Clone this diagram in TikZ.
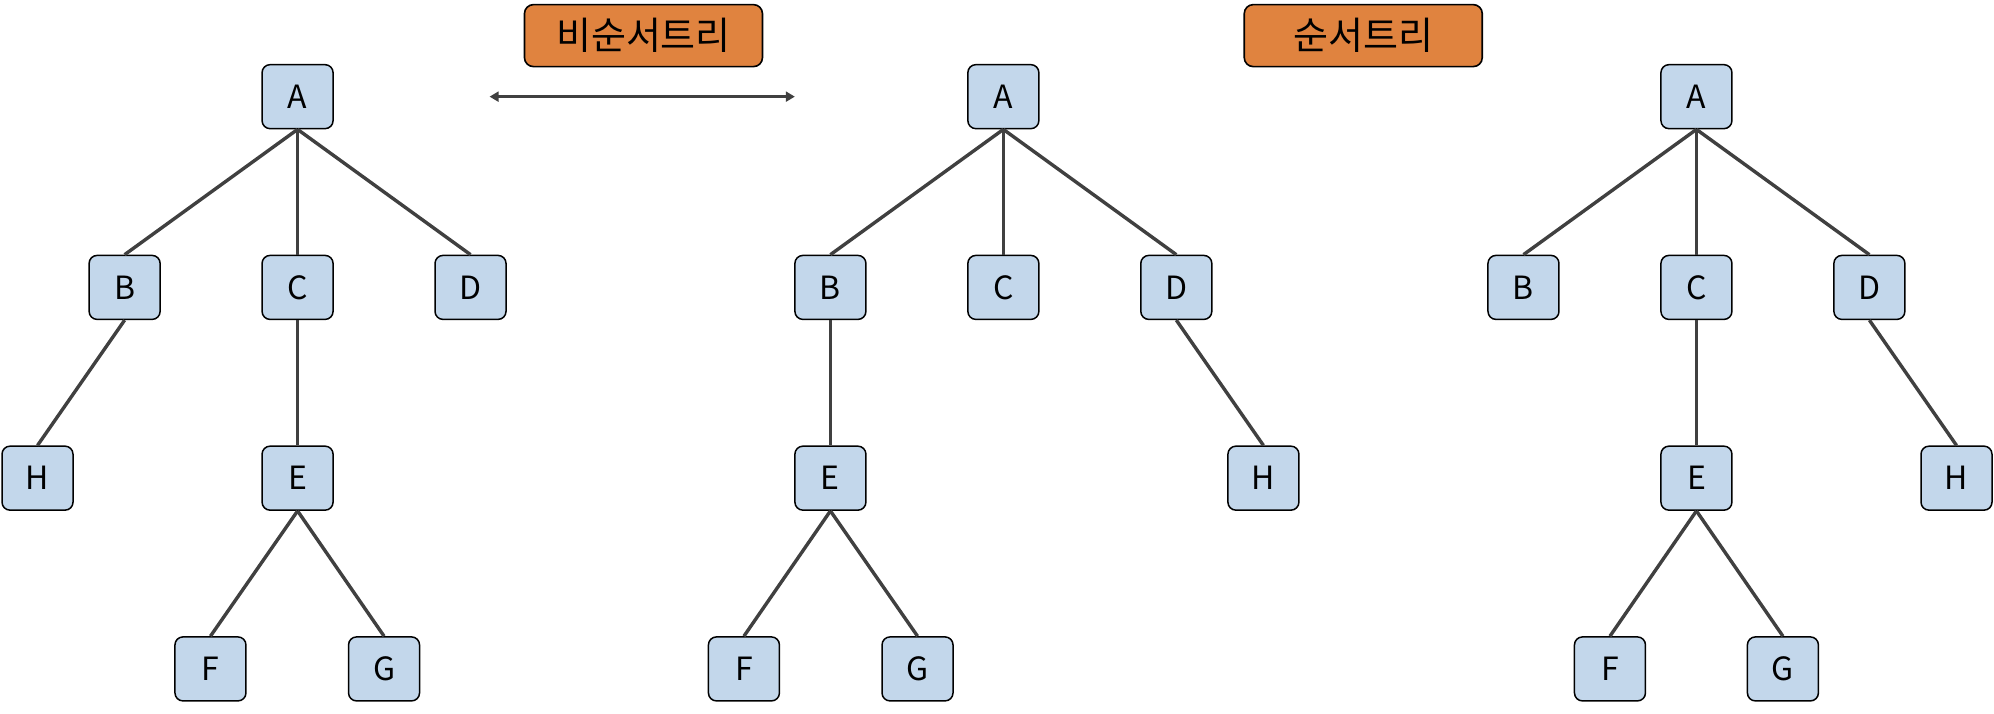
\documentclass[tikz,border=0pt]{standalone}
\usepackage{fontspec}
\setmainfont{Open Sans}
\newfontfamily\kr{Noto Sans CJK KR}
\usetikzlibrary{arrows.meta}
\definecolor{nodefill}{HTML}{C3D7EB}
\definecolor{labfill}{HTML}{E0833F}
\definecolor{edgecol}{HTML}{404040}
\tikzset{
  tnode/.style={draw=black, line width=1.5pt, fill=nodefill, rounded corners=8pt,
    minimum width=71pt, minimum height=64pt, inner sep=0pt, font=\kr\fontsize{32}{34}\selectfont},
  lab/.style={draw=black, line width=1.6pt, fill=labfill, rounded corners=9pt,
    minimum width=238pt, minimum height=62pt, inner sep=0pt, font=\kr\fontsize{38}{42}\selectfont},
  edge/.style={draw=edgecol, line width=3.4pt},
}
\begin{document}
\begin{tikzpicture}[x=1.2717pt, y=-1.2717pt]
\useasboundingbox (0,0) rectangle (1568,561);
% labels
\node[lab] (l1) at (506,28) {비순서트리};
\node[lab] (l2) at (1072,28) {순서트리};
\coordinate (al) at (385,76);
\coordinate (ar) at (625,76);
\draw[edgecol, line width=3.4pt, {Triangle[length=9pt,width=10pt]}-{Triangle[length=9pt,width=10pt]}] (al) -- (ar);
% tree 1
\node[tnode] (a1) at (234,76) {A};
\node[tnode] (b1) at (98,226) {B};
\node[tnode] (c1) at (234,226) {C};
\node[tnode] (d1) at (370,226) {D};
\node[tnode] (h1) at (29.5,376) {H};
\node[tnode] (e1) at (234,376) {E};
\node[tnode] (f1) at (165.5,526) {F};
\node[tnode] (g1) at (302,526) {G};
\draw[edge] (a1.south) -- (b1.north);
\draw[edge] (a1.south) -- (c1.north);
\draw[edge] (a1.south) -- (d1.north);
\draw[edge] (b1.south) -- (h1.north);
\draw[edge] (c1.south) -- (e1.north);
\draw[edge] (e1.south) -- (f1.north);
\draw[edge] (e1.south) -- (g1.north);
% tree 2
\node[tnode] (a2) at (789,76) {A};
\node[tnode] (b2) at (653,226) {B};
\node[tnode] (c2) at (789,226) {C};
\node[tnode] (d2) at (925,226) {D};
\node[tnode] (e2) at (653,376) {E};
\node[tnode] (h2) at (993.5,376) {H};
\node[tnode] (f2) at (585,526) {F};
\node[tnode] (g2) at (721.5,526) {G};
\draw[edge] (a2.south) -- (b2.north);
\draw[edge] (a2.south) -- (c2.north);
\draw[edge] (a2.south) -- (d2.north);
\draw[edge] (b2.south) -- (e2.north);
\draw[edge] (d2.south) -- (h2.north);
\draw[edge] (e2.south) -- (f2.north);
\draw[edge] (e2.south) -- (g2.north);
% tree 3
\node[tnode] (a3) at (1334,76) {A};
\node[tnode] (b3) at (1198,226) {B};
\node[tnode] (c3) at (1334,226) {C};
\node[tnode] (d3) at (1470,226) {D};
\node[tnode] (e3) at (1334,376) {E};
\node[tnode] (h3) at (1538.5,376) {H};
\node[tnode] (f3) at (1266,526) {F};
\node[tnode] (g3) at (1402,526) {G};
\draw[edge] (a3.south) -- (b3.north);
\draw[edge] (a3.south) -- (c3.north);
\draw[edge] (a3.south) -- (d3.north);
\draw[edge] (c3.south) -- (e3.north);
\draw[edge] (d3.south) -- (h3.north);
\draw[edge] (e3.south) -- (f3.north);
\draw[edge] (e3.south) -- (g3.north);
\end{tikzpicture}
\end{document}
